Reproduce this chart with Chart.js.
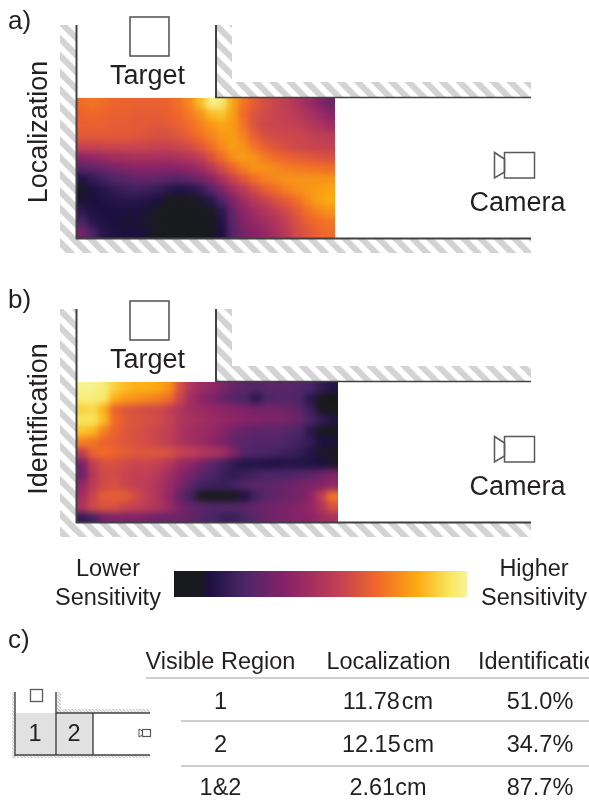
<!DOCTYPE html>
<html>
<head>
<meta charset="utf-8">
<script src="https://cdn.jsdelivr.net/npm/chart.js@4"></script>
<style>
html, body { margin: 0; padding: 0; background: #fff; overflow: hidden; }
#page { position: relative; width: 589px; height: 801px; overflow: hidden; }
.heat { position: absolute; overflow: hidden; }
.heat canvas { position: absolute; transform-origin: 0 0; filter: blur(3px); }
#bar { position: absolute; left: 174px; top: 571px; }
#draw { position: absolute; left: 0; top: 0; }
text { font-family: "Liberation Sans", Arial, sans-serif; fill: #231f20; }
</style>
</head>
<body>
<div id="page">
  <div class="heat" style="left:77px;top:98px;width:258px;height:140px"><canvas id="heatLoc"></canvas></div>
  <div class="heat" style="left:77px;top:382px;width:261px;height:141px"><canvas id="heatIdent"></canvas></div>
  <canvas id="bar"></canvas>
  <svg id="draw" width="589" height="801" xmlns="http://www.w3.org/2000/svg"></svg>
</div>
<script>
// sensitivity, 0 = lower, 100 = higher
var localization = [
  [70,72,70,68,68,67,67,67,68,71,76,86,98,96,82,72,66,61,58,55,50,45,40,33],
  [68,69,68,67,67,66,66,66,67,69,73,78,86,88,81,70,63,60,58,56,53,49,45,40],
  [67,67,67,66,66,65,65,64,65,67,70,74,79,82,80,72,63,59,58,57,56,53,50,46],
  [65,65,65,65,65,64,63,62,62,64,67,71,75,79,80,75,67,62,60,59,59,57,55,54],
  [57,57,58,58,58,58,58,57,57,58,60,65,70,76,80,78,72,67,64,61,59,58,57,57],
  [40,42,44,46,47,48,48,48,48,49,51,55,62,70,77,80,78,73,70,68,66,65,63,62],
  [27,29,32,35,37,39,39,39,38,39,41,45,52,60,68,74,78,78,76,74,73,72,71,70],
  [14,18,22,25,27,29,30,29,28,27,29,33,40,48,57,64,70,74,76,78,78,78,78,78],
  [9,12,15,18,20,21,20,19,15,13,14,18,26,36,46,53,60,66,70,74,77,79,80,82],
  [11,12,13,14,15,15,14,12,9,7,8,10,15,24,36,45,52,57,62,66,70,76,81,83],
  [17,13,12,12,12,12,11,9,5,3,3,5,9,16,30,40,46,50,55,60,65,71,75,78],
  [24,16,13,12,11,11,10,8,4,3,3,4,6,13,28,37,42,46,50,56,62,67,70,72],
  [34,24,15,13,12,12,11,9,6,5,5,5,6,12,26,34,38,42,47,53,60,64,68,70]
];
var identification = [
  [99,99,97,90,86,84,84,82,78,62,50,44,42,36,30,28,26,28,28,28,26,24,18,14],
  [97,97,95,84,80,78,76,74,70,58,46,40,36,30,26,24,16,24,26,26,24,16,6,1],
  [90,92,84,68,64,62,60,60,56,50,46,44,42,40,38,36,34,34,34,32,28,20,8,3],
  [94,94,86,70,65,63,62,60,57,51,48,46,44,42,40,38,38,36,36,34,30,24,18,14],
  [88,85,74,68,64,62,60,58,56,50,46,44,42,38,32,30,28,28,28,26,24,16,6,5],
  [74,72,68,66,64,62,60,58,55,50,46,44,40,36,30,28,26,26,26,24,22,18,12,12],
  [56,68,70,68,66,64,64,64,62,58,56,52,50,46,36,26,24,24,22,20,18,14,10,8],
  [34,56,62,62,60,58,58,56,52,44,40,34,28,22,17,14,14,13,13,14,14,13,12,10],
  [32,52,60,60,58,56,56,52,46,40,34,28,24,20,18,20,22,24,24,24,26,28,32,36],
  [42,54,60,62,58,56,54,50,44,36,28,22,20,20,22,26,28,28,30,32,34,36,38,42],
  [46,58,66,66,66,60,56,50,42,30,22,5,1,2,4,13,22,28,30,32,34,40,55,72],
  [50,60,62,62,58,56,54,50,44,36,30,28,26,26,26,28,30,32,34,36,38,42,50,62],
  [18,22,34,36,36,36,34,32,32,32,30,26,24,20,20,24,28,32,34,36,38,40,44,48]
];

// colour ramp as on the legend bar
var rampAt = [0, 9, 12, 24, 39, 56, 69, 83, 94.5, 100];
var rampColors = ['#171a1c', '#1a1a20', '#1c1040', '#4a2668', '#8a2268', '#c23f55', '#f0662a', '#fcab10', '#f8e860', '#f6f49a'];

var regions = ['1', '2', '1&2'];
var localizationError = ['11.78\u200acm', '12.15\u200acm', '2.61cm'];
var identificationRate = ['51.0%', '34.7%', '87.7%'];
var tableHeads = ['Visible Region', 'Localization', 'Identification'];

Chart.defaults.animation = false;

function hex(c) {
  return [1, 3, 5].map(function (i) { return parseInt(c.substr(i, 2), 16); });
}

function colorFor(v) {
  for (var i = 1; i < rampAt.length; i++) {
    if (v <= rampAt[i]) {
      var f = (v - rampAt[i - 1]) / (rampAt[i] - rampAt[i - 1]);
      var a = hex(rampColors[i - 1]), b = hex(rampColors[i]);
      return 'rgb(' + a.map(function (x, k) { return Math.round(x + (b[k] - x) * f); }).join(',') + ')';
    }
  }
  return rampColors[rampColors.length - 1];
}

// one stacked bar per column, one dataset per row. The edge rows and columns
// are repeated once, outside the clip, so the blur has something to run into
function heatChart(id, grid, w, h) {
  var cell = 11;
  var rows = [grid[0]].concat(grid, [grid[grid.length - 1]]).map(function (r) {
    return [r[0]].concat(r, [r[r.length - 1]]);
  });
  var canvas = document.getElementById(id);
  canvas.width = rows[0].length * cell;
  canvas.height = rows.length * cell;
  var sx = w / grid[0].length / cell, sy = h / grid.length / cell;
  canvas.style.left = (-cell * sx) + 'px';
  canvas.style.top = (-cell * sy) + 'px';
  canvas.style.transform = 'scale(' + sx + ',' + sy + ')';
  new Chart(canvas, {
    type: 'bar',
    data: {
      labels: rows[0].map(function (v, i) { return i; }),
      datasets: rows.map(function (r) {
        return { data: r.map(function () { return 1; }), backgroundColor: r.map(colorFor), borderWidth: 0 };
      })
    },
    options: {
      responsive: false,
      categoryPercentage: 1,
      barPercentage: 1,
      layout: { padding: 0 },
      plugins: { legend: { display: false }, tooltip: { enabled: false } },
      scales: {
        x: { display: false, stacked: true },
        y: { display: false, stacked: true, reverse: true, min: 0, max: rows.length }
      }
    }
  });
}

heatChart('heatLoc', localization, 258, 140);
heatChart('heatIdent', identification, 261, 141);

// legend bar
var barCanvas = document.getElementById('bar');
barCanvas.width = 293;
barCanvas.height = 26;
new Chart(barCanvas, {
  type: 'bar',
  data: {
    labels: ['Sensitivity'],
    datasets: [{
      data: [[0, 100]],
      borderWidth: 0,
      backgroundColor: function (c) {
        var area = c.chart.chartArea;
        if (!area) return rampColors[0];
        var g = c.chart.ctx.createLinearGradient(area.left, 0, area.right, 0);
        rampAt.forEach(function (t, i) { g.addColorStop(t / 100, rampColors[i]); });
        return g;
      }
    }]
  },
  options: {
    indexAxis: 'y',
    responsive: false,
    categoryPercentage: 1,
    barPercentage: 1,
    plugins: { legend: { display: false }, tooltip: { enabled: false } },
    scales: {
      x: { display: false, min: 0, max: 100 },
      y: { display: false }
    }
  }
});

// schematics and table text
var out = '<defs>' +
  '<pattern id="hatch" width="12" height="12" patternUnits="userSpaceOnUse" patternTransform="rotate(-45)"><rect width="6.2" height="12" fill="#d3d3d3"/></pattern>' +
  '<pattern id="hatchSmall" width="2.4" height="2.4" patternUnits="userSpaceOnUse" patternTransform="rotate(-45)"><rect width="1.1" height="2.4" fill="#c4c4c4"/></pattern>' +
  '</defs>';

function label(str, x, y, size, anchor, extra) {
  out += '<text x="' + x + '" y="' + y + '" font-size="' + size + '" text-anchor="' + (anchor || 'middle') + '" ' + (extra || '') + '>' +
    str.replace('&', '&amp;') + '</text>';
}

function line(x1, y1, x2, y2, color, w) {
  out += '<line x1="' + x1 + '" y1="' + y1 + '" x2="' + x2 + '" y2="' + y2 + '" stroke="' + color + '" stroke-width="' + w + '"/>';
}

function corridor(dy, sideLabel, sideY) {
  var fill = 'fill="url(#hatch)"';
  out += '<g>';
  out += '<rect x="60" y="' + (25 + dy) + '" width="16" height="228" ' + fill + '/>';
  out += '<rect x="60" y="' + (239 + dy) + '" width="471" height="14" ' + fill + '/>';
  out += '<rect x="217" y="' + (25 + dy) + '" width="15" height="72" ' + fill + '/>';
  out += '<rect x="217" y="' + (82 + dy) + '" width="314" height="15" ' + fill + '/>';
  line(76.5, 25 + dy, 76.5, 239 + dy, '#414042', 2);
  line(216, 25 + dy, 216, 98 + dy, '#414042', 2);
  line(215, 97.5 + dy, 531, 97.5 + dy, '#414042', 1.6);
  line(76, 238.5 + dy, 531, 238.5 + dy, '#414042', 2);
  out += '<rect x="130" y="' + (17 + dy) + '" width="39" height="39" fill="none" stroke="#58595b" stroke-width="1.6"/>';
  out += '<rect x="504.5" y="' + (152.5 + dy) + '" width="30" height="25.5" fill="none" stroke="#58595b" stroke-width="1.5"/>';
  out += '<polygon points="494.5,' + (152.5 + dy) + ' 504.5,' + (159 + dy) + ' 504.5,' + (172 + dy) + ' 494.5,' + (178 + dy) + '" fill="none" stroke="#58595b" stroke-width="1.5"/>';
  out += '</g>';
  label('Target', 147.5, 84 + dy, 27);
  label('Camera', 517.5, 211 + dy, 27);
  label(sideLabel, 0, 0, 27, 'middle', 'transform="translate(47,' + sideY + ') rotate(-90)"');
}

label('a)', 8, 29, 26, 'start');
label('b)', 8, 308, 26, 'start');
label('c)', 8, 648, 26, 'start');
corridor(0, 'Localization', 132);
corridor(284, 'Identification', 419);

label('Lower', 108, 576, 23.5);
label('Sensitivity', 108, 605, 23.5);
label('Higher', 534, 576, 23.5);
label('Sensitivity', 534, 605, 23.5);

// small floor plan
out += '<rect x="15" y="713" width="78" height="42" fill="#e1e1e1"/>';
out += '<rect x="12" y="692" width="3" height="66" fill="url(#hatchSmall)"/>';
out += '<rect x="12" y="755" width="138" height="3" fill="url(#hatchSmall)"/>';
out += '<rect x="57" y="692" width="4" height="21" fill="url(#hatchSmall)"/>';
out += '<rect x="57" y="709" width="93" height="4" fill="url(#hatchSmall)"/>';
line(15, 692, 15, 756, '#414042', 1.4);
line(56, 692, 56, 755, '#414042', 1.4);
line(93, 713, 93, 755, '#414042', 1.4);
line(56, 713, 150, 713, '#414042', 1.4);
line(15, 755, 150, 755, '#414042', 1.4);
out += '<rect x="30.5" y="689.5" width="12" height="12" fill="none" stroke="#58595b" stroke-width="1.3"/>';
out += '<rect x="142.5" y="729.5" width="8" height="7" fill="none" stroke="#58595b" stroke-width="1.2"/>';
out += '<polygon points="139,729 142.5,731 142.5,735 139,737" fill="none" stroke="#58595b" stroke-width="1"/>';
label('1', 35, 741, 23.5);
label('2', 74, 741, 23.5);

// results table
var colX = [220.5, 388, 540];
label(tableHeads[0], 220.5, 669, 23.5);
label(tableHeads[1], 388.5, 669, 23.5);
label(tableHeads[2], 478, 669, 23.5, 'start');
line(146, 678, 589, 678, '#bcbec0', 1.6);
line(181, 721, 589, 721, '#bcbec0', 1.6);
line(181, 766, 589, 766, '#bcbec0', 1.6);
var rowY = [709, 752, 795];
regions.forEach(function (r, i) {
  label(r, colX[0], rowY[i], 23.5);
  label(localizationError[i], colX[1], rowY[i], 23.5);
  label(identificationRate[i], colX[2], rowY[i], 23.5);
});

document.getElementById('draw').innerHTML = out;
</script>
</body>
</html>
